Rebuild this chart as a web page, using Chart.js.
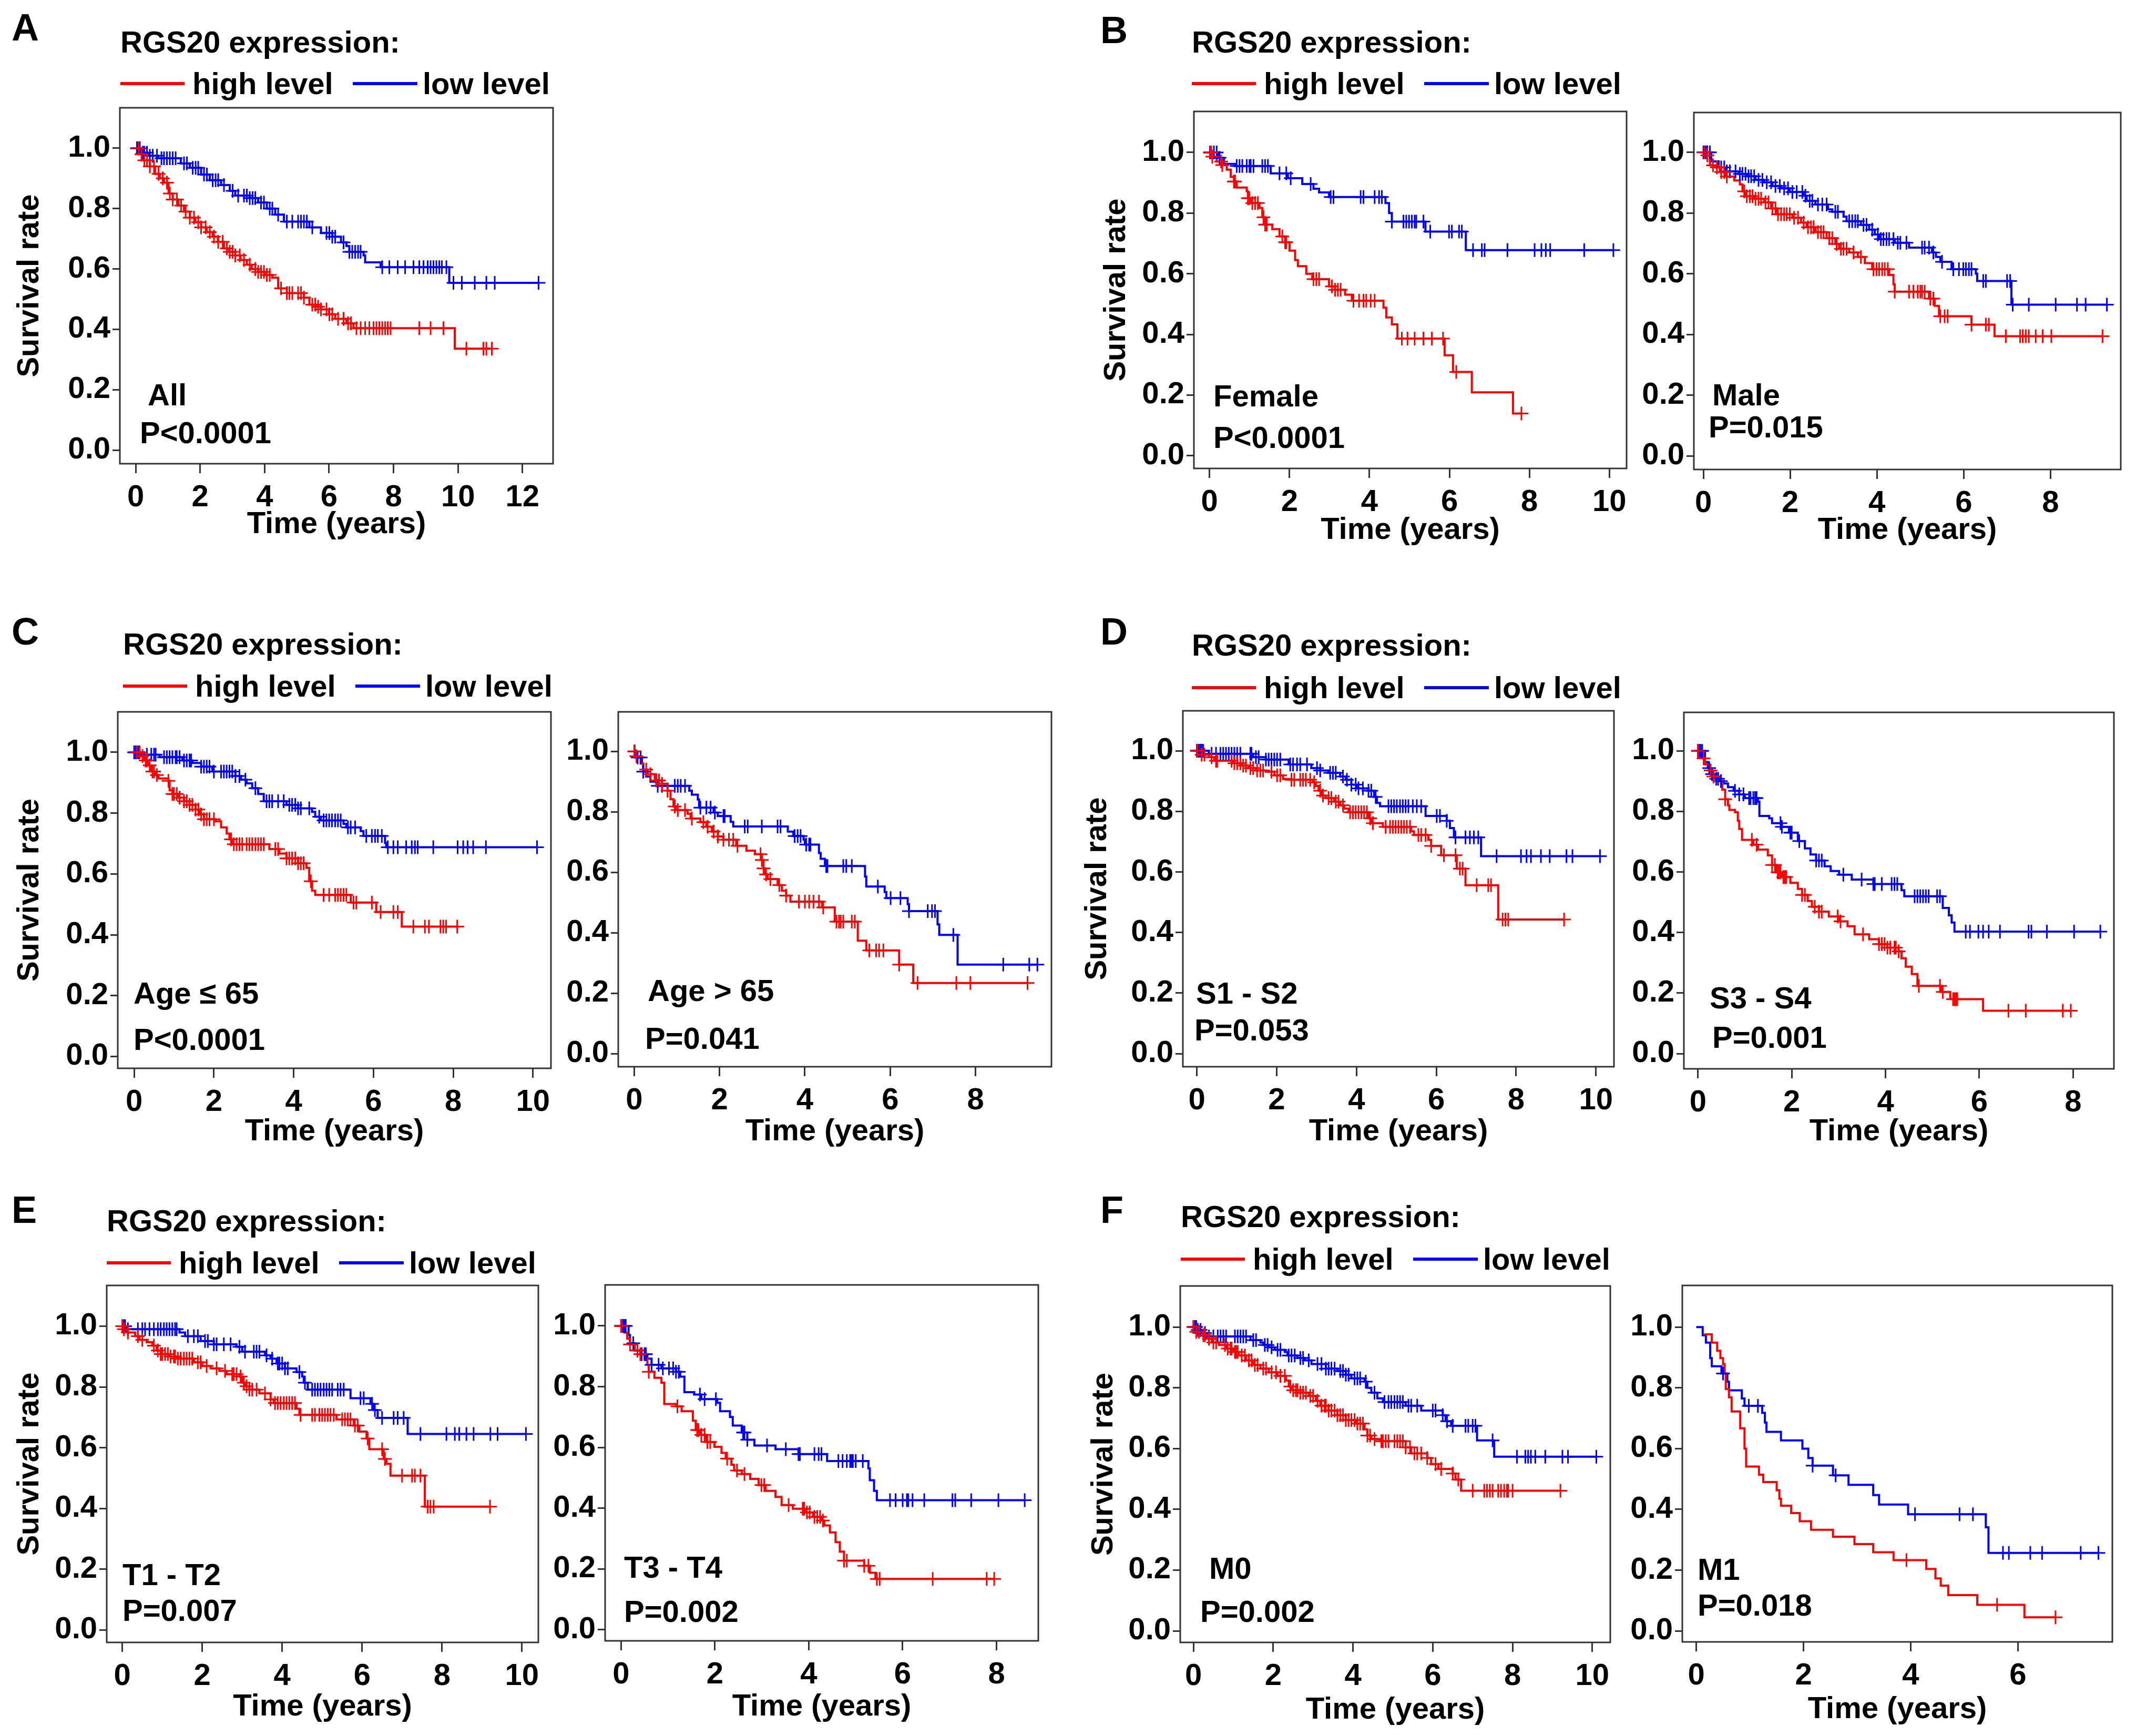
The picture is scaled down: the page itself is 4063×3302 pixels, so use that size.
<!DOCTYPE html>
<html>
<head>
<meta charset="utf-8">
<script src="https://cdn.jsdelivr.net/npm/chart.js@4.4.1/dist/chart.umd.min.js"></script>
<style>
  body { margin: 0; background: #fff; width: 4063px; height: 3302px; position: relative; overflow: hidden;
         font-family: "Liberation Sans", Arial, sans-serif; font-weight: bold; }
  .t { position: absolute; white-space: nowrap; line-height: 1; transform: translateY(-50%); color: #000; }
  .leg { position: absolute; height: 6px; }
  canvas { position: absolute; }
</style>
</head>
<body>
<script>
// tick labels
const yTicks = [0, 0.2, 0.4, 0.6, 0.8, 1.0];
const xTicks12 = [0, 2, 4, 6, 8, 10, 12];
const xTicks10 = [0, 2, 4, 6, 8, 10];
const xTicks8 = [0, 2, 4, 6, 8];
const xTicks6 = [0, 2, 4, 6];

// A: all patients  [time, survival] at each event, censor times
const aHighSteps = [[0,1],[0.1,0.98],[0.25,0.96],[0.44,0.94],[0.6,0.915],[0.75,0.9],[0.88,0.886],[1.02,0.85],[1.15,0.83],[1.33,0.81],[1.5,0.79],[1.68,0.77],[1.85,0.755],[2.03,0.738],[2.2,0.722],[2.39,0.707],[2.55,0.69],[2.74,0.668],[2.9,0.657],[3.09,0.645],[3.25,0.63],[3.45,0.614],[3.6,0.6],[3.8,0.59],[4.0,0.58],[4.24,0.571],[4.42,0.536],[4.69,0.52],[5.22,0.505],[5.39,0.482],[5.6,0.475],[5.75,0.466],[6.0,0.45],[6.19,0.435],[6.54,0.42],[6.76,0.404],[9.9,0.336]];
const aHighCens = [0.09,0.18,0.27,0.35,0.44,0.57,0.71,0.84,0.97,1.06,1.15,1.28,1.41,1.55,1.68,1.81,1.94,2.03,2.17,2.3,2.43,2.56,2.7,2.83,2.92,3.01,3.09,3.23,3.36,3.54,3.71,3.8,3.89,3.98,4.07,4.16,4.51,4.69,4.77,4.86,5.04,5.13,5.22,5.48,5.57,5.66,5.75,5.92,6.01,6.1,6.28,6.45,6.59,6.68,6.85,6.98,7.12,7.25,7.38,7.47,7.56,7.65,7.74,7.82,7.91,8.8,9.15,9.55,10.26,10.79,10.88,11.05];
const aLowSteps = [[0,1],[0.15,0.985],[0.4,0.975],[0.7,0.967],[1.4,0.95],[1.68,0.935],[2.03,0.913],[2.3,0.894],[2.65,0.878],[2.92,0.859],[3.09,0.843],[3.54,0.835],[3.8,0.82],[4.07,0.8],[4.33,0.78],[4.6,0.757],[5.39,0.738],[5.75,0.719],[6.1,0.707],[6.37,0.688],[6.54,0.676],[6.63,0.657],[7.07,0.645],[7.12,0.622],[7.6,0.606],[9.73,0.554]];
const aLowCens = [0.04,0.09,0.13,0.22,0.27,0.35,0.44,0.53,0.66,0.8,0.88,0.97,1.06,1.15,1.24,1.5,1.59,1.77,1.86,1.94,2.12,2.21,2.39,2.48,2.56,2.74,3.01,3.18,3.36,3.45,3.54,3.63,3.71,3.89,3.98,4.16,4.24,4.42,4.69,4.86,5.04,5.13,5.22,5.31,5.48,5.92,6.01,6.1,6.19,6.45,6.63,6.72,6.81,6.9,6.98,7.65,7.87,8.13,8.36,8.62,8.8,8.93,9.06,9.15,9.24,9.33,9.42,9.5,9.64,9.86,10.12,10.52,10.88,11.14,12.5];

// B: female / male
const femHighSteps = [[0,1],[0.05,0.986],[0.18,0.97],[0.32,0.958],[0.43,0.943],[0.53,0.919],[0.61,0.904],[0.68,0.884],[0.93,0.872],[0.96,0.849],[1.03,0.833],[1.25,0.817],[1.32,0.786],[1.39,0.762],[1.57,0.747],[1.75,0.723],[1.89,0.704],[2.0,0.676],[2.14,0.645],[2.21,0.625],[2.42,0.6],[2.57,0.582],[2.99,0.558],[3.14,0.547],[3.39,0.531],[3.56,0.511],[4.35,0.488],[4.42,0.456],[4.56,0.433],[4.7,0.386],[5.88,0.331],[6.09,0.276],[6.56,0.209],[7.59,0.139]];
const femHighCens = [0.02,0.04,0.07,0.29,0.32,0.61,0.64,0.96,1.0,1.07,1.14,1.21,1.35,1.39,1.43,1.82,1.89,1.92,2.6,2.67,2.74,3.06,3.14,3.21,3.28,3.6,3.74,3.85,3.92,4.03,4.13,4.81,4.95,5.13,5.35,5.56,5.84,6.17,7.8];
const femLowSteps = [[0,1],[0.21,0.982],[0.36,0.962],[0.64,0.955],[1.53,0.931],[1.96,0.915],[2.32,0.896],[2.6,0.88],[2.74,0.868],[2.99,0.853],[4.4,0.833],[4.49,0.8],[4.56,0.772],[5.4,0.739],[6.41,0.678]];
const femLowCens = [0.01,0.04,0.11,0.18,0.25,0.68,0.75,0.82,0.93,1.0,1.03,1.1,1.32,1.39,1.46,1.75,1.92,2.03,2.53,3.03,3.1,3.78,3.85,4.13,4.24,4.31,4.56,4.85,4.92,4.99,5.06,5.13,5.17,5.35,5.52,5.99,6.06,6.24,6.31,6.59,6.81,6.88,7.45,8.13,8.3,8.41,8.52,9.37,10.1];
const maleHighSteps = [[0,1],[0.05,0.99],[0.15,0.957],[0.28,0.95],[0.38,0.935],[0.51,0.92],[0.71,0.907],[0.84,0.894],[0.9,0.871],[0.97,0.855],[1.17,0.847],[1.4,0.835],[1.56,0.815],[1.69,0.796],[2.05,0.784],[2.25,0.768],[2.38,0.753],[2.58,0.737],[2.84,0.717],[3.04,0.698],[3.13,0.682],[3.36,0.67],[3.56,0.655],[3.72,0.635],[3.89,0.615],[4.28,0.596],[4.38,0.565],[4.41,0.541],[5.2,0.518],[5.33,0.494],[5.43,0.46],[6.18,0.432],[6.71,0.394]];
const maleHighCens = [0.02,0.09,0.22,0.31,0.41,0.48,0.54,0.94,1.0,1.07,1.13,1.2,1.27,1.33,1.43,1.5,1.59,1.66,1.72,1.79,1.86,1.92,1.99,2.09,2.18,2.31,2.41,2.48,2.54,2.64,2.71,2.77,2.9,2.97,3.07,3.17,3.23,3.3,3.46,3.63,3.92,3.99,4.05,4.12,4.18,4.25,4.41,4.74,4.84,4.94,5.0,5.04,5.1,5.23,5.3,5.46,5.56,5.63,6.18,6.51,6.58,6.97,7.3,7.36,7.43,7.5,7.66,7.82,8.02,9.2];
const maleLowSteps = [[0,1],[0.18,0.97],[0.35,0.95],[0.51,0.937],[0.81,0.929],[1.0,0.921],[1.2,0.909],[1.4,0.901],[1.59,0.889],[1.79,0.881],[1.99,0.869],[2.31,0.857],[2.38,0.84],[2.58,0.828],[2.87,0.812],[2.97,0.804],[3.23,0.788],[3.3,0.773],[3.63,0.761],[3.82,0.745],[3.95,0.729],[4.05,0.714],[4.41,0.702],[4.74,0.686],[5.27,0.67],[5.36,0.655],[5.46,0.639],[5.72,0.615],[6.28,0.6],[6.31,0.576],[7.1,0.498]];
const maleLowCens = [0.0,0.05,0.09,0.15,0.41,0.48,0.54,0.61,0.74,0.84,0.9,0.97,1.04,1.1,1.17,1.27,1.36,1.46,1.56,1.66,1.76,1.86,1.95,2.05,2.15,2.28,2.35,2.45,2.51,2.64,2.74,2.84,3.04,3.1,3.36,3.43,3.5,3.56,3.69,3.76,3.89,4.02,4.09,4.15,4.22,4.28,4.38,4.48,4.54,4.68,5.04,5.1,5.2,5.3,5.5,5.76,5.89,5.99,6.05,6.12,6.18,6.45,6.51,7.0,7.07,7.13,7.5,8.12,8.61,8.81,9.3];

// C: age <= 65 / age > 65
const youngHighSteps = [[0,1],[0.18,0.988],[0.25,0.973],[0.36,0.957],[0.43,0.937],[0.54,0.925],[0.61,0.914],[0.86,0.906],[0.89,0.875],[0.96,0.863],[1.11,0.851],[1.25,0.839],[1.39,0.827],[1.54,0.812],[1.64,0.796],[1.75,0.78],[2.04,0.773],[2.18,0.753],[2.32,0.733],[2.39,0.714],[2.46,0.698],[3.39,0.682],[3.64,0.667],[3.82,0.651],[4.11,0.635],[4.32,0.62],[4.39,0.576],[4.46,0.545],[4.54,0.531],[5.43,0.506],[6.07,0.475],[6.71,0.427]];
const youngHighCens = [0.07,0.14,0.21,0.29,0.32,0.39,0.46,0.5,0.57,0.86,0.96,1.0,1.07,1.14,1.25,1.32,1.39,1.46,1.54,1.61,1.68,1.75,1.82,1.89,2.0,2.43,2.5,2.57,2.64,2.71,2.82,2.89,2.96,3.04,3.11,3.18,3.25,3.54,3.61,3.82,3.89,3.96,4.04,4.11,4.18,4.25,4.43,4.75,4.89,5.04,5.11,5.18,5.25,5.32,5.5,5.57,5.96,6.18,6.5,6.61,7.0,7.29,7.39,7.68,7.75,7.82,8.1];
const youngLowSteps = [[0,1],[0.25,0.992],[0.64,0.984],[1.21,0.973],[1.46,0.965],[1.68,0.953],[1.96,0.937],[2.54,0.922],[2.68,0.91],[2.82,0.898],[2.96,0.882],[3.11,0.863],[3.25,0.839],[3.82,0.827],[4.11,0.816],[4.46,0.804],[4.54,0.788],[4.68,0.776],[5.25,0.765],[5.32,0.753],[5.68,0.741],[5.75,0.725],[6.29,0.702],[6.32,0.688]];
const youngLowCens = [0.0,0.04,0.07,0.11,0.32,0.43,0.5,0.54,0.75,0.82,0.89,0.96,1.04,1.07,1.14,1.25,1.32,1.39,1.43,1.68,1.75,1.82,1.89,2.0,2.18,2.25,2.32,2.39,2.46,2.54,2.64,2.79,3.04,3.32,3.39,3.46,3.61,3.75,3.89,3.96,4.04,4.11,4.18,4.39,4.64,4.75,4.82,4.89,4.96,5.04,5.11,5.18,5.36,5.43,5.54,5.82,5.96,6.04,6.11,6.21,6.36,6.5,6.61,6.82,6.96,7.04,7.11,7.5,8.11,8.25,8.36,8.5,8.82,10.1];
const oldHighSteps = [[0,1],[0.05,0.984],[0.15,0.96],[0.21,0.94],[0.31,0.925],[0.48,0.904],[0.65,0.893],[0.78,0.87],[0.85,0.842],[0.92,0.818],[0.98,0.806],[1.25,0.794],[1.32,0.778],[1.55,0.766],[1.69,0.751],[1.82,0.735],[1.96,0.719],[2.09,0.708],[2.39,0.688],[2.63,0.672],[2.83,0.66],[2.99,0.641],[3.03,0.613],[3.06,0.593],[3.13,0.578],[3.36,0.558],[3.46,0.539],[3.56,0.523],[3.66,0.503],[4.4,0.484],[4.7,0.437],[5.24,0.374],[5.44,0.342],[6.21,0.295],[6.54,0.234]];
const oldHighCens = [0.0,0.05,0.28,0.38,0.52,0.58,0.65,0.78,0.95,1.02,1.19,1.35,1.62,1.72,1.86,1.96,2.09,2.22,2.32,2.42,2.96,2.99,3.03,3.09,3.19,3.4,3.56,3.86,4.0,4.1,4.2,4.33,4.43,4.74,4.8,4.84,4.9,5.1,5.17,5.51,5.67,5.74,5.84,6.21,6.64,7.55,7.88,9.22];
const oldLowSteps = [[0,1],[0.02,0.98],[0.18,0.96],[0.21,0.933],[0.28,0.917],[0.38,0.9],[0.55,0.886],[1.29,0.87],[1.35,0.857],[1.49,0.841],[1.52,0.814],[1.86,0.798],[1.96,0.786],[2.26,0.767],[2.32,0.752],[3.6,0.735],[3.73,0.72],[3.97,0.708],[4.0,0.692],[4.33,0.664],[4.37,0.645],[4.47,0.621],[5.41,0.586],[5.44,0.553],[5.87,0.535],[5.91,0.515],[6.41,0.495],[6.44,0.472],[7.11,0.428],[7.15,0.393],[7.58,0.295]];
const oldLowCens = [0.01,0.08,0.15,0.21,0.55,0.65,0.95,1.02,1.09,1.19,1.55,1.69,1.79,1.89,2.09,2.12,2.59,2.66,2.99,3.36,3.43,3.76,3.83,3.9,4.03,4.1,4.13,4.5,4.53,4.9,4.97,5.1,5.71,6.01,6.24,6.44,6.88,6.98,7.05,7.48,8.65,9.26,9.45];

// D: stage S1-S2 / S3-S4
const s12HighSteps = [[0,1],[0.09,0.987],[0.3,0.979],[0.44,0.967],[0.91,0.959],[1.12,0.951],[1.3,0.943],[1.48,0.935],[1.73,0.931],[1.94,0.919],[2.16,0.907],[2.37,0.904],[2.91,0.896],[2.98,0.884],[3.05,0.868],[3.12,0.852],[3.23,0.844],[3.44,0.832],[3.59,0.82],[3.69,0.809],[3.8,0.797],[4.3,0.777],[4.37,0.761],[4.66,0.749],[5.37,0.734],[5.44,0.722],[5.8,0.706],[5.87,0.686],[6.12,0.655],[6.51,0.611],[6.73,0.556],[7.55,0.443]];
const s12HighCens = [0.01,0.12,0.19,0.37,0.48,0.51,0.87,0.94,1.01,1.09,1.16,1.23,1.34,1.41,1.51,1.59,1.66,1.87,2.01,2.09,2.37,2.44,2.59,2.66,2.73,2.84,2.94,3.09,3.16,3.3,3.37,3.48,3.55,3.66,3.84,3.91,3.98,4.05,4.12,4.19,4.26,4.34,4.41,4.73,4.84,4.91,4.98,5.05,5.12,5.19,5.26,5.34,5.55,5.62,5.73,5.87,6.19,6.48,6.59,6.66,7.01,7.3,7.37,7.66,7.73,7.8,9.2];
const s12LowSteps = [[0,1],[0.3,0.99],[1.41,0.979],[1.73,0.971],[2.3,0.955],[2.87,0.943],[3.09,0.935],[3.3,0.927],[3.59,0.915],[3.73,0.904],[3.87,0.888],[4.01,0.876],[4.3,0.868],[4.44,0.848],[4.51,0.828],[4.59,0.817],[5.73,0.785],[6.26,0.769],[6.34,0.745],[6.44,0.714],[7.12,0.652]];
const s12LowCens = [0.0,0.01,0.05,0.09,0.12,0.16,0.37,0.48,0.59,0.66,0.73,0.8,0.87,0.94,1.01,1.09,1.34,1.37,1.48,1.55,1.73,1.8,1.87,1.94,2.01,2.09,2.34,2.41,2.51,2.59,2.76,3.01,3.09,3.34,3.41,3.48,3.66,3.76,3.87,3.98,4.05,4.16,4.3,4.37,4.48,4.8,4.87,4.94,5.01,5.09,5.16,5.23,5.3,5.41,5.51,5.62,6.01,6.09,6.26,6.48,6.73,6.84,6.94,7.05,7.51,8.12,8.26,8.37,8.62,8.84,9.26,9.41,10.1];
const s34HighSteps = [[0,1],[0.02,0.99],[0.09,0.975],[0.15,0.955],[0.24,0.935],[0.33,0.915],[0.46,0.9],[0.52,0.872],[0.58,0.84],[0.64,0.82],[0.67,0.805],[0.79,0.797],[0.85,0.769],[0.88,0.742],[0.94,0.706],[1.18,0.69],[1.28,0.674],[1.49,0.655],[1.58,0.623],[1.67,0.599],[1.79,0.583],[1.97,0.564],[2.13,0.544],[2.22,0.524],[2.34,0.504],[2.43,0.485],[2.58,0.469],[2.79,0.453],[3.01,0.437],[3.19,0.421],[3.34,0.394],[3.65,0.378],[3.86,0.362],[4.04,0.35],[4.28,0.338],[4.34,0.315],[4.43,0.287],[4.56,0.263],[4.68,0.224],[5.19,0.204],[5.38,0.18],[6.08,0.142]];
const s34HighCens = [0.0,0.12,0.27,0.33,0.58,1.15,1.25,1.58,1.64,1.7,1.73,1.76,1.82,1.85,1.88,2.22,2.28,2.49,2.58,2.64,2.98,3.04,3.52,3.86,3.92,3.98,4.04,4.1,4.19,4.22,4.28,4.71,5.16,5.22,5.44,5.47,5.5,5.53,6.62,6.99,7.78,7.95];
const s34LowSteps = [[0,1],[0.15,0.963],[0.21,0.943],[0.27,0.923],[0.36,0.908],[0.46,0.9],[0.55,0.892],[0.64,0.88],[0.76,0.868],[0.88,0.856],[1.0,0.844],[1.28,0.832],[1.31,0.785],[1.52,0.777],[1.58,0.761],[1.79,0.749],[1.94,0.73],[2.13,0.702],[2.28,0.678],[2.4,0.658],[2.52,0.638],[2.7,0.619],[2.83,0.603],[3.01,0.591],[3.28,0.575],[3.74,0.56],[4.34,0.54],[4.4,0.52],[5.22,0.481],[5.35,0.457],[5.41,0.433],[5.47,0.403]];
const s34LowCens = [0.0,0.03,0.06,0.09,0.24,0.3,0.39,0.43,0.49,0.79,0.88,0.97,1.09,1.12,1.18,1.22,1.25,1.76,1.79,1.97,2.0,2.16,2.52,2.58,2.64,3.1,3.49,3.74,3.77,3.92,4.13,4.19,4.25,4.62,4.68,4.74,4.8,4.86,4.92,5.1,5.16,5.71,5.8,5.98,6.08,6.2,6.44,7.05,7.11,7.44,8.02,8.58];

// E: T1-T2 / T3-T4
const t12HighSteps = [[0,1],[0.03,0.99],[0.11,0.979],[0.32,0.967],[0.43,0.955],[0.61,0.947],[0.75,0.936],[0.86,0.92],[0.96,0.908],[1.18,0.9],[1.36,0.893],[1.79,0.881],[2.0,0.869],[2.21,0.861],[2.43,0.853],[2.61,0.842],[2.93,0.834],[3.0,0.814],[3.07,0.802],[3.18,0.791],[3.43,0.779],[3.71,0.759],[3.79,0.747],[4.36,0.728],[4.43,0.708],[5.36,0.693],[5.79,0.673],[5.93,0.653],[6.11,0.63],[6.18,0.595],[6.54,0.563],[6.61,0.547],[6.71,0.508],[7.57,0.406]];
const t12HighCens = [0.0,0.04,0.14,0.39,0.5,0.79,0.89,0.96,1.0,1.07,1.14,1.21,1.29,1.32,1.39,1.46,1.54,1.61,1.68,1.75,1.89,1.96,2.11,2.36,2.57,2.75,2.79,2.86,2.96,3.04,3.11,3.18,3.25,3.36,3.57,3.71,3.82,3.89,3.96,4.04,4.11,4.18,4.25,4.32,4.46,4.75,4.82,4.93,5.0,5.07,5.14,5.21,5.29,5.5,5.57,5.64,5.71,5.82,5.89,6.14,6.5,6.57,7.0,7.25,7.32,7.46,7.64,7.71,7.79,9.2];
const t12LowSteps = [[0,1],[0.11,0.99],[1.43,0.979],[1.57,0.967],[1.96,0.951],[2.29,0.94],[2.86,0.932],[3.0,0.916],[3.57,0.904],[3.71,0.893],[3.86,0.877],[4.07,0.861],[4.36,0.849],[4.5,0.834],[4.54,0.814],[4.64,0.791],[5.71,0.763],[6.21,0.744],[6.29,0.724],[6.39,0.698],[7.14,0.645]];
const t12LowCens = [0.0,0.04,0.07,0.14,0.39,0.5,0.57,0.68,0.79,0.89,0.96,1.04,1.11,1.18,1.25,1.32,1.36,1.64,1.79,1.89,2.07,2.14,2.29,2.36,2.54,2.71,2.93,3.07,3.29,3.36,3.43,3.61,3.75,3.89,3.93,4.0,4.07,4.14,4.43,4.57,4.75,4.82,4.89,4.96,5.04,5.11,5.18,5.25,5.39,5.46,5.54,5.96,6.04,6.25,6.32,6.5,6.79,6.89,7.04,7.46,8.11,8.32,8.43,8.61,8.79,9.21,9.39,10.1];
const t34HighSteps = [[0,1],[0.02,0.994],[0.07,0.978],[0.13,0.958],[0.19,0.939],[0.29,0.919],[0.41,0.907],[0.5,0.892],[0.56,0.872],[0.59,0.849],[0.71,0.829],[0.86,0.813],[0.92,0.743],[1.17,0.735],[1.29,0.719],[1.53,0.688],[1.59,0.657],[1.68,0.641],[1.81,0.618],[1.99,0.602],[2.14,0.582],[2.23,0.563],[2.35,0.543],[2.41,0.524],[2.57,0.512],[2.75,0.496],[2.93,0.476],[3.08,0.457],[3.29,0.437],[3.42,0.41],[3.66,0.398],[3.93,0.386],[4.09,0.371],[4.27,0.359],[4.33,0.343],[4.45,0.32],[4.57,0.288],[4.66,0.257],[4.75,0.227],[5.18,0.21],[5.3,0.187],[5.42,0.167]];
const t34HighCens = [0.0,0.01,0.19,0.35,0.41,0.59,1.2,1.62,1.65,1.71,1.78,1.84,1.9,2.26,2.47,2.63,2.99,3.05,3.57,3.87,3.9,3.96,4.02,4.12,4.18,4.24,4.3,4.75,4.81,5.18,5.27,5.45,5.51,6.64,7.79,7.95];
const t34LowSteps = [[0,1],[0.16,0.97],[0.19,0.943],[0.29,0.919],[0.41,0.907],[0.56,0.892],[0.65,0.872],[0.86,0.86],[1.17,0.849],[1.26,0.833],[1.35,0.782],[1.56,0.774],[1.71,0.759],[2.05,0.747],[2.11,0.719],[2.32,0.7],[2.38,0.672],[2.57,0.649],[2.69,0.625],[2.84,0.606],[3.29,0.594],[3.78,0.578],[4.39,0.555],[5.27,0.531],[5.3,0.492],[5.39,0.457],[5.45,0.426]];
const t34LowCens = [0.0,0.04,0.07,0.1,0.26,0.35,0.44,0.5,0.53,0.65,0.8,0.89,1.02,1.11,1.17,1.23,1.68,1.78,2.02,2.6,2.63,2.69,3.11,3.51,3.78,3.81,4.12,4.21,4.27,4.63,4.72,4.81,4.88,4.91,4.94,5.0,5.15,5.73,5.85,6.0,6.09,6.12,6.21,6.46,7.06,7.12,7.46,8.04,8.6];

// F: M0 / M1
const m0HighSteps = [[0,1],[0.04,0.984],[0.18,0.973],[0.32,0.961],[0.46,0.949],[0.64,0.941],[0.82,0.929],[1.0,0.918],[1.14,0.906],[1.32,0.89],[1.5,0.875],[1.68,0.863],[1.89,0.851],[2.11,0.839],[2.32,0.824],[2.39,0.804],[2.46,0.792],[2.68,0.784],[2.89,0.773],[3.07,0.757],[3.18,0.741],[3.39,0.725],[3.61,0.71],[3.82,0.694],[4.07,0.682],[4.29,0.663],[4.36,0.643],[4.46,0.631],[4.68,0.624],[5.32,0.604],[5.46,0.584],[5.86,0.569],[5.96,0.549],[6.14,0.533],[6.5,0.518],[6.57,0.498],[6.71,0.461]];
const m0HighCens = [0.0,0.07,0.14,0.25,0.29,0.39,0.5,0.57,0.79,0.86,0.93,0.96,1.04,1.07,1.11,1.21,1.29,1.39,1.46,1.54,1.61,1.75,1.82,1.96,2.07,2.18,2.29,2.43,2.5,2.57,2.61,2.68,2.75,2.82,2.93,3.0,3.11,3.21,3.29,3.32,3.39,3.46,3.54,3.61,3.68,3.75,3.82,3.89,3.96,4.04,4.11,4.18,4.25,4.36,4.43,4.54,4.71,4.75,4.82,4.89,5.04,5.11,5.18,5.25,5.32,5.43,5.54,5.61,5.71,5.86,6.07,6.21,6.5,6.64,7.0,7.29,7.36,7.43,7.5,7.64,7.71,7.79,7.86,7.89,8.0,9.2];
const m0LowSteps = [[0,1],[0.1,0.99],[0.25,0.98],[0.36,0.969],[1.43,0.957],[1.68,0.949],[1.75,0.941],[1.89,0.933],[2.04,0.925],[2.29,0.918],[2.36,0.906],[2.61,0.898],[2.79,0.89],[2.96,0.878],[3.32,0.863],[3.61,0.855],[3.82,0.843],[3.96,0.831],[4.29,0.82],[4.36,0.8],[4.46,0.784],[4.61,0.765],[4.75,0.753],[5.32,0.741],[5.71,0.725],[6.25,0.71],[6.32,0.69],[6.46,0.675],[7.11,0.627],[7.54,0.573]];
const m0LowCens = [0.0,0.04,0.07,0.11,0.18,0.29,0.39,0.5,0.61,0.68,0.75,0.82,1.04,1.11,1.18,1.25,1.32,1.5,1.57,1.79,1.86,1.96,2.11,2.18,2.39,2.46,2.54,2.68,2.75,2.89,3.11,3.21,3.32,3.39,3.46,3.54,3.68,3.75,3.82,3.89,4.04,4.11,4.18,4.32,4.54,4.79,4.89,4.96,5.04,5.11,5.18,5.25,5.39,5.46,5.61,6.0,6.07,6.25,6.36,6.5,6.82,6.89,7.0,7.07,7.5,8.11,8.32,8.39,8.46,8.57,8.82,9.25,9.39,10.1];
const m1HighSteps = [[0.15,0.976],[0.29,0.949],[0.39,0.922],[0.45,0.898],[0.5,0.878],[0.53,0.847],[0.55,0.796],[0.61,0.769],[0.66,0.722],[0.82,0.667],[0.9,0.6],[0.93,0.541],[1.17,0.514],[1.25,0.49],[1.5,0.463],[1.55,0.435],[1.58,0.412],[1.77,0.388],[1.93,0.361],[2.14,0.333],[2.55,0.31],[2.95,0.286],[3.3,0.259],[3.68,0.233],[4.29,0.204],[4.46,0.173],[4.56,0.149],[4.7,0.118],[5.24,0.086],[6.12,0.045]];
const m1HighCens = [3.92,5.61,6.7];
const m1LowSteps = [[0,1],[0.12,0.973],[0.18,0.949],[0.26,0.898],[0.29,0.871],[0.47,0.847],[0.58,0.82],[0.61,0.792],[0.85,0.765],[0.9,0.741],[1.23,0.718],[1.28,0.686],[1.31,0.655],[1.58,0.627],[1.98,0.6],[2.09,0.569],[2.17,0.544],[2.55,0.512],[2.84,0.481],[3.3,0.447],[3.41,0.416],[3.95,0.384],[5.4,0.341],[5.45,0.257]];
const m1LowCens = [0.5,0.98,1.15,2.17,2.6,4.08,4.91,5.16,5.72,5.83,6.23,6.45,7.17,7.5];

const RED = '#ff0000';
const BLUE = '#0000ff';
const FONT = "'Liberation Sans', Arial, sans-serif";

// panel headers
const headers = [
  { letter: 'A', lx: 22,   ly: 52,   hx: 229,  hy: 80,   gy: 159 },
  { letter: 'B', lx: 2093, ly: 57,   hx: 2267, hy: 80,   gy: 159 },
  { letter: 'C', lx: 22,   ly: 1201, hx: 234,  hy: 1225, gy: 1305 },
  { letter: 'D', lx: 2093, ly: 1201, hx: 2267, hy: 1227, gy: 1308 },
  { letter: 'E', lx: 22,   ly: 2301, hx: 203,  hy: 2322, gy: 2402 },
  { letter: 'F', lx: 2093, ly: 2301, hx: 2246, hy: 2314, gy: 2395 }
];

// plot boxes: [left, top, width, height], axis ranges, label positions
const panels = [
  { box: [228, 205, 824, 677],  x: [-0.49, 12.95], y: [-0.045, 1.134], xt: xTicks12, L: 206, B: 151,
    hi: aHighSteps, hiC: aHighCens, lo: aLowSteps, loC: aLowCens,
    text: [['All', 281, 751], ['P<0.0001', 266, 823]] },
  { box: [2271, 212, 823, 679], x: [-0.39, 10.43], y: [-0.042, 1.135], xt: xTicks10, L: 182, B: 153,
    hi: femHighSteps, hiC: femHighCens, lo: femLowSteps, loC: femLowCens,
    text: [['Female', 2308, 753], ['P<0.0001', 2308, 832]] },
  { box: [3222, 214, 812, 679], x: [-0.22, 9.62], y: [-0.045, 1.131], xt: xTicks8, L: 120, B: 151, noY: true,
    hi: maleHighSteps, hiC: maleHighCens, lo: maleLowSteps, loC: maleLowCens,
    text: [['Male', 3257, 751], ['P=0.015', 3250, 812]] },
  { box: [224, 1354, 824, 678], x: [-0.41, 10.45], y: [-0.039, 1.133], xt: xTicks10, L: 202, B: 156,
    hi: youngHighSteps, hiC: youngHighCens, lo: youngLowSteps, loC: youngLowCens,
    text: [['Age \u2264 65', 254, 1889], ['P<0.0001', 254, 1977]] },
  { box: [1176, 1354, 824, 675], x: [-0.375, 9.78], y: [-0.043, 1.131], xt: xTicks8, L: 120, B: 159, noY: true,
    hi: oldHighSteps, hiC: oldHighCens, lo: oldLowSteps, loC: oldLowCens,
    text: [['Age > 65', 1232, 1884], ['P=0.041', 1227, 1975]] },
  { box: [2250, 1352, 820, 677], x: [-0.35, 10.45], y: [-0.043, 1.132], xt: xTicks10, L: 197, B: 159,
    hi: s12HighSteps, hiC: s12HighCens, lo: s12LowSteps, loC: s12LowCens,
    text: [['S1 - S2', 2275, 1889], ['P=0.053', 2272, 1959]] },
  { box: [3203, 1355, 818, 678], x: [-0.30, 8.87], y: [-0.05, 1.127], xt: xTicks8, L: 120, B: 155, noY: true,
    hi: s34HighSteps, hiC: s34HighCens, lo: s34LowSteps, loC: s34LowCens,
    text: [['S3 - S4', 3252, 1898], ['P=0.001', 3257, 1973]] },
  { box: [203, 2445, 821, 679],  x: [-0.39, 10.41], y: [-0.041, 1.134], xt: xTicks10, L: 181, B: 158,
    hi: t12HighSteps, hiC: t12HighCens, lo: t12LowSteps, loC: t12LowCens,
    text: [['T1 - T2', 233, 2995], ['P=0.007', 233, 3063]] },
  { box: [1151, 2444, 824, 677], x: [-0.34, 8.89], y: [-0.037, 1.135], xt: xTicks8, L: 120, B: 161, noY: true,
    hi: t34HighSteps, hiC: t34HighCens, lo: t34LowSteps, loC: t34LowCens,
    text: [['T3 - T4', 1187, 2981], ['P=0.002', 1187, 3065]] },
  { box: [2245, 2446, 818, 678], x: [-0.33, 10.45], y: [-0.038, 1.135], xt: xTicks10, L: 180, B: 164,
    hi: m0HighSteps, hiC: m0HighCens, lo: m0LowSteps, loC: m0LowCens,
    text: [['M0', 2300, 2983], ['P=0.002', 2283, 3065]] },
  { box: [3200, 2445, 818, 678], x: [-0.26, 7.76], y: [-0.036, 1.137], xt: xTicks6, L: 120, B: 164, noY: true,
    hi: m1HighSteps, hiC: m1HighCens, lo: m1LowSteps, loC: m1LowCens,
    text: [['M1', 3229, 2985], ['P=0.018', 3229, 3053]] }
];

function addText(str, left, cy, size) {
  const d = document.createElement('div');
  d.className = 't';
  d.textContent = str;
  d.style.left = left + 'px';
  d.style.top = cy + 'px';
  d.style.fontSize = size + 'px';
  d.style.zIndex = 5;
  document.body.appendChild(d);
}

function addLine(left, cy, w, color) {
  const d = document.createElement('div');
  d.className = 'leg';
  d.style.left = left + 'px';
  d.style.top = (cy - 3) + 'px';
  d.style.width = w + 'px';
  d.style.background = color;
  document.body.appendChild(d);
}

headers.forEach(h => {
  addText(h.letter, h.lx, h.ly, 72);
  addText('RGS20 expression:', h.hx, h.hy, 58);
  addLine(h.hx, h.gy, 122, RED);
  addText('high level', h.hx + 137, h.gy, 58);
  addLine(h.hx + 442, h.gy, 123, BLUE);
  addText('low level', h.hx + 575, h.gy, 58);
});

// survival value of a step curve at time t
function survAt(steps, t) {
  let s = steps[0][1];
  for (const [tt, v] of steps) {
    if (tt <= t + 1e-9) s = v;
  }
  return s;
}

function curve(steps, cens) {
  const pts = steps.map(([x, y]) => ({ x, y }));
  const end = Math.max(...cens);
  pts.push({ x: end, y: steps[steps.length - 1][1] });
  return pts;
}

function marks(steps, cens) {
  return cens.map(t => ({ x: t, y: survAt(steps, t) }));
}

const boxPlugin = {
  id: 'box',
  afterDraw(chart) {
    const { ctx, chartArea: a } = chart;
    ctx.save();
    ctx.strokeStyle = '#333';
    ctx.lineWidth = 3;
    ctx.strokeRect(a.left, a.top, a.right - a.left, a.bottom - a.top);
    ctx.restore();
  }
};

const tickFont = { family: FONT, size: 58, weight: 'bold' };
const titleFont = { family: FONT, size: 58, weight: 'bold', lineHeight: 1.2 };

panels.forEach(p => {
  const T = 45, R = 45;
  const [bx, by, bw, bh] = p.box;
  const canvas = document.createElement('canvas');
  canvas.width = p.L + bw + R;
  canvas.height = T + bh + p.B;
  canvas.style.left = (bx - p.L) + 'px';
  canvas.style.top = (by - T) + 'px';
  canvas.style.width = canvas.width + 'px';
  canvas.style.height = canvas.height + 'px';
  document.body.appendChild(canvas);

  p.text.forEach(([s, x, y]) => addText(s, x, y, 58));

  new Chart(canvas, {
    type: 'scatter',
    data: {
      datasets: [
        { data: marks(p.hi, p.hiC), borderColor: RED, pointStyle: 'cross', pointRadius: 13, pointBorderWidth: 3, showLine: false },
        { data: marks(p.lo, p.loC), borderColor: BLUE, pointStyle: 'cross', pointRadius: 13, pointBorderWidth: 3, showLine: false },
        { data: curve(p.hi, p.hiC), borderColor: RED, borderWidth: 4, pointRadius: 0, showLine: true, stepped: 'before' },
        { data: curve(p.lo, p.loC), borderColor: BLUE, borderWidth: 4, pointRadius: 0, showLine: true, stepped: 'before' }
      ]
    },
    options: {
      responsive: false,
      animation: false,
      devicePixelRatio: 1,
      events: [],
      layout: { padding: { left: 0, right: R, top: T, bottom: 0 } },
      plugins: { legend: { display: false }, tooltip: { enabled: false } },
      scales: {
        x: {
          type: 'linear', min: p.x[0], max: p.x[1],
          afterBuildTicks: s => { s.ticks = p.xt.map(v => ({ value: v })); },
          afterFit: s => { s.height = p.B; },
          ticks: { font: tickFont, color: '#000', padding: 12, autoSkip: false, maxRotation: 0, callback: v => String(v) },
          grid: { drawOnChartArea: false, tickLength: 18, color: '#333', lineWidth: 3 },
          border: { display: false },
          title: { display: true, text: 'Time (years)', font: titleFont, color: '#000', padding: 0 }
        },
        y: {
          type: 'linear', min: p.y[0], max: p.y[1],
          afterBuildTicks: s => { s.ticks = yTicks.map(v => ({ value: v })); },
          afterFit: s => { s.width = p.L; },
          ticks: { font: tickFont, color: '#000', padding: 4, autoSkip: false, callback: v => v.toFixed(1) },
          grid: { drawOnChartArea: false, tickLength: 14, color: '#333', lineWidth: 3 },
          border: { display: false },
          title: { display: !p.noY, text: 'Survival rate', font: titleFont, color: '#000', padding: 0 }
        }
      }
    },
    plugins: [boxPlugin]
  });
});
</script>
</body>
</html>
